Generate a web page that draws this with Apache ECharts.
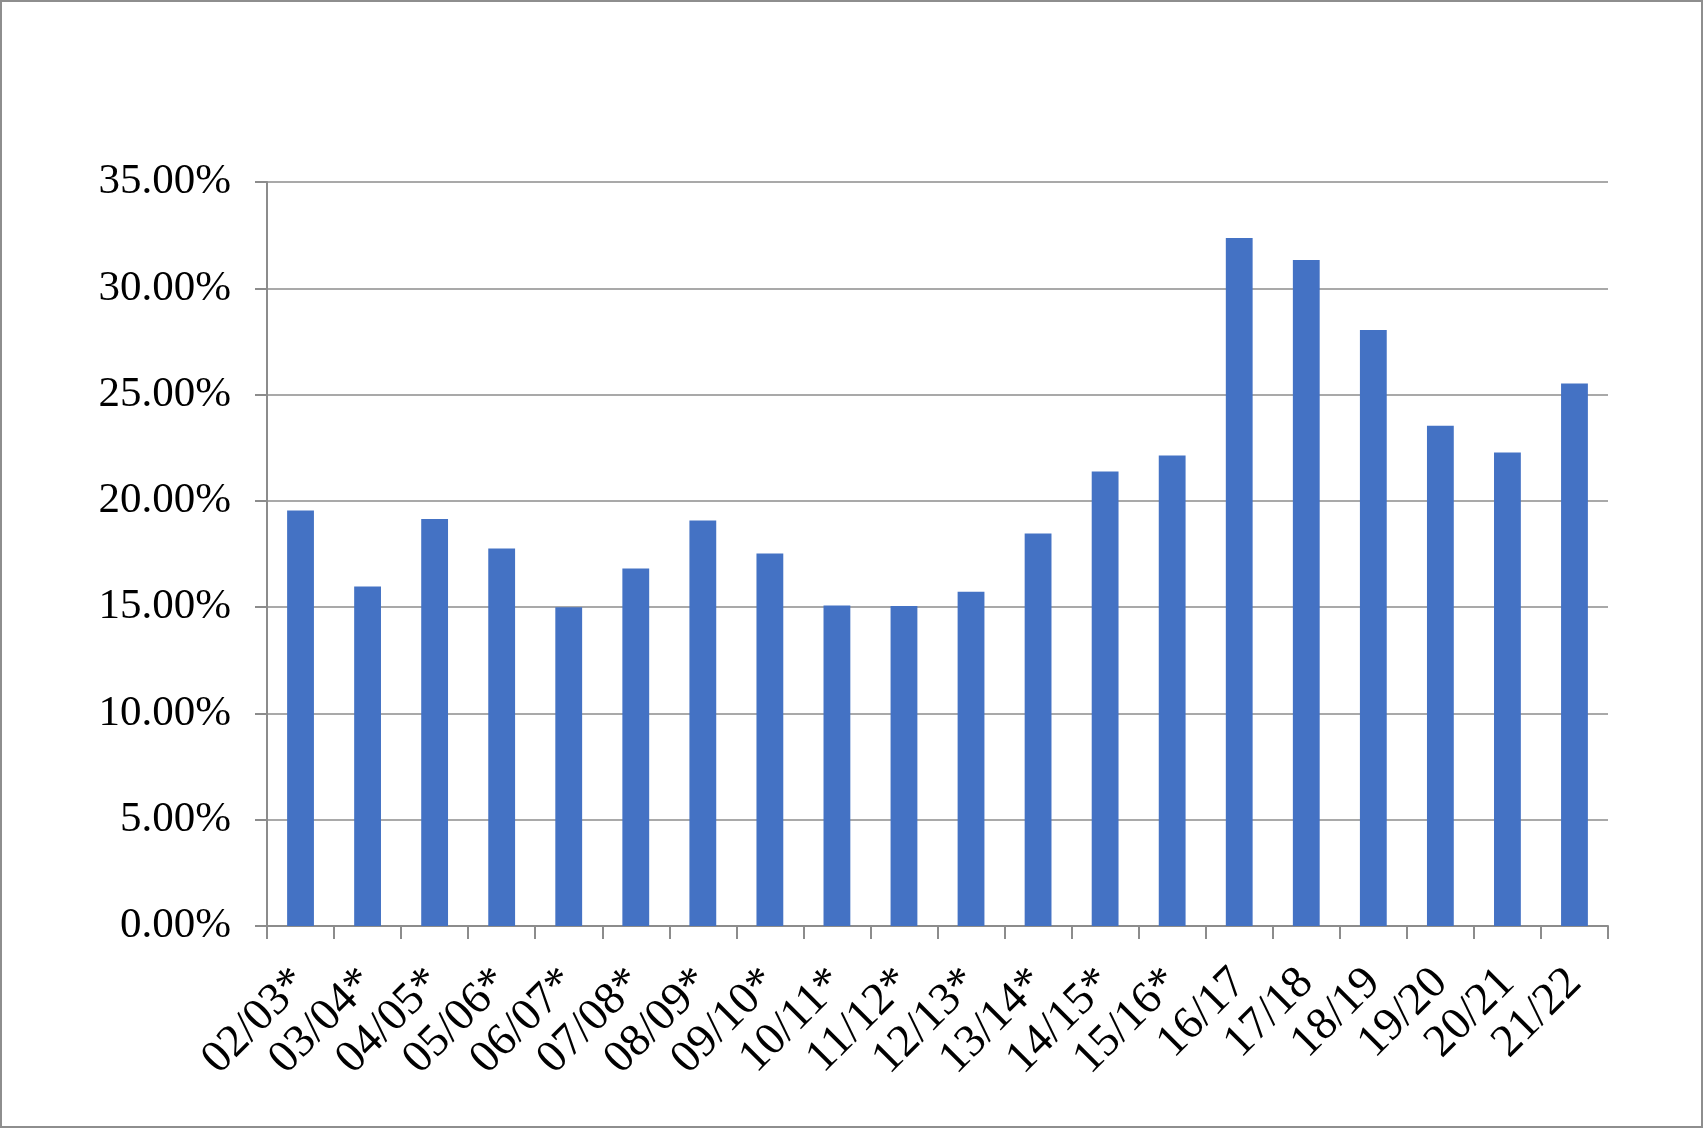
<!DOCTYPE html>
<html>
<head>
<meta charset="utf-8">
<script src="https://cdn.jsdelivr.net/npm/echarts@6/dist/echarts.min.js"></script>
<style>
html,body{margin:0;padding:0;background:#fff;}
#chart{width:1703px;height:1128px;box-sizing:border-box;border:2px solid #8e8e8e;}
</style>
</head>
<body>
<div id="chart"></div>
<script>
const categories = ["02/03*","03/04*","04/05*","05/06*","06/07*","07/08*","08/09*","09/10*","10/11*","11/12*","12/13*","13/14*","14/15*","15/16*","16/17","17/18","18/19","19/20","20/21","21/22"];
const values = [19.55, 15.97, 19.15, 17.76, 15.0, 16.82, 19.08, 17.52, 15.08, 15.05, 15.72, 18.47, 21.38, 22.13, 32.37, 31.33, 28.04, 23.53, 22.28, 25.52];
const yTicks = {min: 0, max: 35, interval: 5};

const chart = echarts.init(document.getElementById('chart'));
chart.setOption({
  animation: false,
  grid: {left: 265, right: 93, top: 180, bottom: 200, containLabel: false},
  xAxis: {
    type: 'category',
    data: categories,
    boundaryGap: true,
    axisLine: {show: true, lineStyle: {color: '#8c8c8c', width: 2}},
    axisTick: {show: true, length: 13, lineStyle: {color: '#8c8c8c', width: 2}},
    axisLabel: {
      interval: 0, rotate: 45, margin: 50,
      color: '#000', fontFamily: 'Liberation Serif', fontSize: 46
    }
  },
  yAxis: {
    type: 'value',
    min: yTicks.min, max: yTicks.max, interval: yTicks.interval,
    axisLine: {show: true, lineStyle: {color: '#8c8c8c', width: 2}},
    axisTick: {show: true, length: 12, inside: false, lineStyle: {color: '#8c8c8c', width: 2}},
    splitLine: {show: true, lineStyle: {color: '#8c8c8c', width: 1.5}},
    axisLabel: {
      margin: 36, color: '#000', fontFamily: 'Liberation Serif', fontSize: 43,
      formatter: v => v.toFixed(2) + '%'
    }
  },
  series: [{
    type: 'bar',
    data: values,
    barWidth: '40%',
    itemStyle: {color: '#4472C4'}
  }]
});
</script>
</body>
</html>
